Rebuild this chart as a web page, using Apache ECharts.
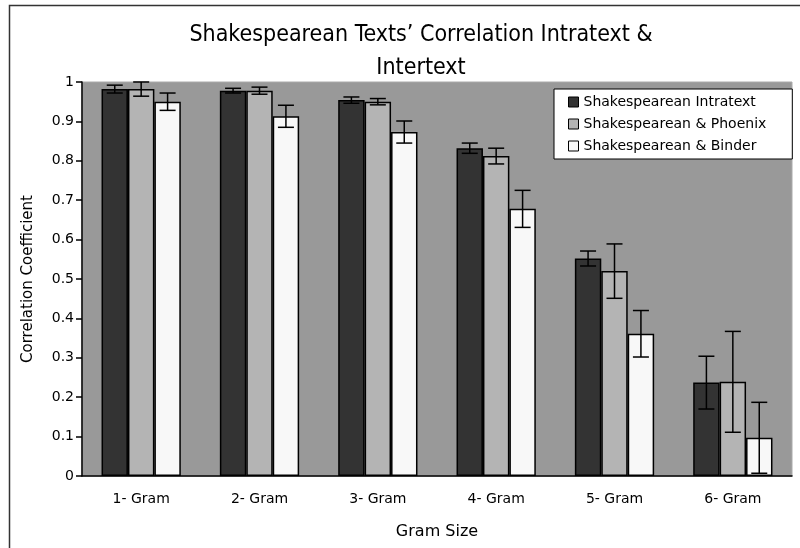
<!DOCTYPE html>
<html>
<head>
    <meta charset="utf-8">
    <title>Shakespearean Texts' Correlation</title>
    <script src="https://cdn.jsdelivr.net/npm/echarts@6/dist/echarts.min.js"></script>
</head>
<body style="margin:0;background:#fff;">
    <div id="main" style="width: 800px;height:548px;"></div>
    <script type="text/javascript">
        // data
        var categories = ['1- Gram', '2- Gram', '3- Gram', '4- Gram', '5- Gram', '6- Gram'];
        var seriesNames = ['Shakespearean Intratext', 'Shakespearean & Phoenix', 'Shakespearean & Binder'];
        var intratext = [0.982, 0.978, 0.954, 0.832, 0.552, 0.237];
        var phoenix = [0.982, 0.978, 0.950, 0.812, 0.520, 0.239];
        var binder = [0.950, 0.913, 0.873, 0.678, 0.361, 0.097];
        // error bar half widths
        var intratextErr = [0.010, 0.006, 0.008, 0.013, 0.019, 0.067];
        var phoenixErr = [0.018, 0.009, 0.008, 0.020, 0.069, 0.128];
        var binderErr = [0.022, 0.028, 0.028, 0.047, 0.059, 0.090];
        var yTicks = [0, 0.1, 0.2, 0.3, 0.4, 0.5, 0.6, 0.7, 0.8, 0.9, 1];

        var colors = ['#333333', '#b4b4b4', '#f8f8f8'];
        var catGap = 0.33;
        var font = "'DejaVu Sans', sans-serif";

        var myChart = echarts.init(document.getElementById('main'));

        function errData(vals, errs) {
            return vals.map(function (v, i) {
                return [i, v - errs[i], v + errs[i]];
            });
        }

        function errSeries(idx, vals, errs) {
            return {
                type: 'custom',
                name: 'err' + idx,
                z: 10,
                silent: true,
                renderItem: function (params, api) {
                    var x = api.value(0);
                    var top = api.coord([x, api.value(2)]);
                    var bot = api.coord([x, api.value(1)]);
                    var band = api.size([1, 0])[0];
                    var bw = band * (1 - catGap) / 3;
                    var cx = top[0] + (idx - 1) * bw;
                    var cap = 8;
                    var style = { stroke: '#000', lineWidth: 1.5 };
                    return {
                        type: 'group',
                        children: [
                            { type: 'line', shape: { x1: cx, y1: top[1], x2: cx, y2: bot[1] }, style: style },
                            { type: 'line', shape: { x1: cx - cap, y1: top[1], x2: cx + cap, y2: top[1] }, style: style },
                            { type: 'line', shape: { x1: cx - cap, y1: bot[1], x2: cx + cap, y2: bot[1] }, style: style }
                        ]
                    };
                },
                encode: { x: 0, y: [1, 2] },
                data: errData(vals, errs)
            };
        }

        function barSeries(idx, vals) {
            return {
                type: 'bar',
                name: seriesNames[idx],
                data: vals,
                barGap: '0%',
                barCategoryGap: (catGap * 100) + '%',
                itemStyle: { color: colors[idx], borderColor: '#000', borderWidth: 1.5 }
            };
        }

        var option = {
            animation: false,
            title: {
                text: 'Shakespearean Texts\u2019 Correlation Intratext &\nIntertext',
                left: 416,
                top: 14,
                textAlign: 'center',
                textStyle: {
                    fontFamily: "'DejaVu Sans Condensed', 'Liberation Sans Narrow', sans-serif",
                    fontWeight: 'normal',
                    fontSize: 23,
                    lineHeight: 33,
                    color: '#000'
                }
            },
            graphic: [{
                type: 'rect',
                left: 7, top: 3,
                shape: { width: 820, height: 600 },
                style: { fill: 'none', stroke: '#333', lineWidth: 1.5 },
                silent: true
            }],
            legend: {
                data: seriesNames,
                orient: 'vertical',
                left: 554,
                top: 89,
                padding: [6, 26, 6, 14],
                itemGap: 8,
                itemWidth: 10,
                itemHeight: 10,
                icon: 'rect',
                itemStyle: { borderColor: '#000', borderWidth: 1 },
                backgroundColor: '#fff',
                borderColor: '#000',
                borderWidth: 1,
                borderRadius: 0,
                textStyle: { fontFamily: font, fontSize: 14, color: '#000' }
            },
            grid: {
                left: 82,
                right: 8,
                top: 82,
                bottom: 72,
                show: true,
                backgroundColor: '#999999',
                borderColor: '#aaaaaa',
                borderWidth: 1
            },
            xAxis: {
                type: 'category',
                data: categories,
                name: 'Gram Size',
                nameLocation: 'middle',
                nameGap: 48,
                nameTextStyle: { fontFamily: font, fontSize: 16, color: '#000' },
                axisLine: { lineStyle: { color: '#000', width: 1.5 } },
                axisTick: { show: false },
                axisLabel: { fontFamily: font, fontSize: 14, color: '#000', margin: 16 }
            },
            yAxis: {
                type: 'value',
                min: yTicks[0],
                max: yTicks[yTicks.length - 1],
                interval: 0.1,
                name: 'Correlation Coefficient',
                nameLocation: 'middle',
                nameGap: 46,
                nameTextStyle: { fontFamily: font, fontSize: 15, color: '#000' },
                axisLine: { show: true, lineStyle: { color: '#000', width: 1.5 } },
                axisTick: { show: true, length: 6, lineStyle: { color: '#000', width: 1.5 } },
                splitLine: { show: false },
                axisLabel: { fontFamily: font, fontSize: 14, color: '#000', margin: 8 }
            },
            series: [
                barSeries(0, intratext),
                barSeries(1, phoenix),
                barSeries(2, binder),
                errSeries(0, intratext, intratextErr),
                errSeries(1, phoenix, phoenixErr),
                errSeries(2, binder, binderErr)
            ]
        };

        myChart.setOption(option);
    </script>
</body>
</html>
